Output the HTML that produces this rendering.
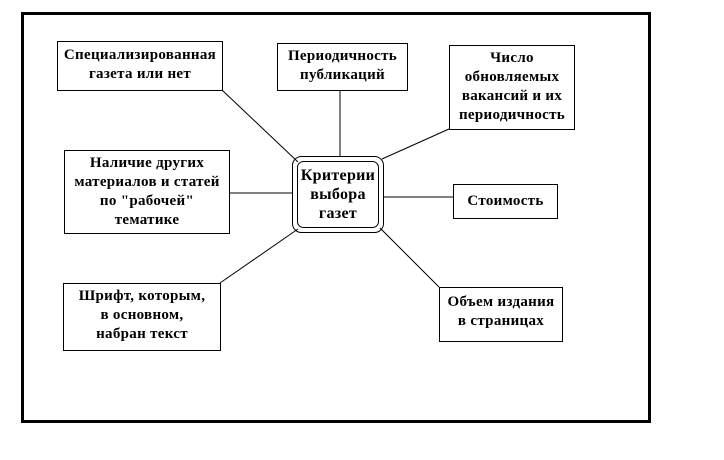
<!DOCTYPE html>
<html><head><meta charset="utf-8"><style>
body{margin:0;width:724px;height:460px;background:#fff;position:relative;overflow:hidden;font-family:"Liberation Serif",serif;font-weight:bold;font-size:15px;letter-spacing:0.3px;}
.b{position:absolute;border:1px solid #000;background:#fff;box-sizing:border-box;text-align:center;line-height:19px;white-space:nowrap;}
</style></head><body>
<div style="position:absolute;left:21px;top:12px;width:630px;height:411px;border:3px solid #000;box-sizing:border-box"></div>
<svg width="724" height="460" style="position:absolute;left:0;top:0">
<g stroke="#000" stroke-width="1" fill="none">
<line x1="222" y1="90" x2="298" y2="162"/>
<line x1="340" y1="90" x2="340" y2="156"/>
<line x1="449" y1="129" x2="382" y2="159"/>
<line x1="383" y1="197" x2="453" y2="197"/>
<line x1="229" y1="193" x2="292" y2="193"/>
<line x1="220" y1="283" x2="298" y2="229"/>
<line x1="439" y1="287" x2="380" y2="228"/>
<rect x="292.5" y="156.5" width="91" height="76" rx="9"/>
<rect x="297.5" y="161.5" width="81" height="66" rx="6"/>
</g></svg>
<div style="position:absolute;left:298px;top:166px;width:80px;text-align:center;line-height:19px;font-size:16px">Критерии<br>выбора<br>газет</div>
<div class="b" style="left:57px;top:41px;width:166px;height:50px;padding-top:4px">Специализированная<br>газета или нет</div>
<div class="b" style="left:277px;top:43px;width:131px;height:48px;padding-top:3px">Периодичность<br>публикаций</div>
<div class="b" style="left:449px;top:45px;width:126px;height:85px;padding-top:3px">Число<br>обновляемых<br>вакансий и их<br>периодичность</div>
<div class="b" style="left:453px;top:184px;width:105px;height:35px;padding-top:7px">Стоимость</div>
<div class="b" style="left:64px;top:150px;width:166px;height:84px;padding-top:3px">Наличие других<br>материалов и статей<br>по "рабочей"<br>тематике</div>
<div class="b" style="left:63px;top:283px;width:158px;height:68px;padding-top:3px">Шрифт, которым,<br>в основном,<br>набран текст</div>
<div class="b" style="left:439px;top:287px;width:124px;height:55px;padding-top:5px">Объем издания<br>в страницах</div>
</body></html>
